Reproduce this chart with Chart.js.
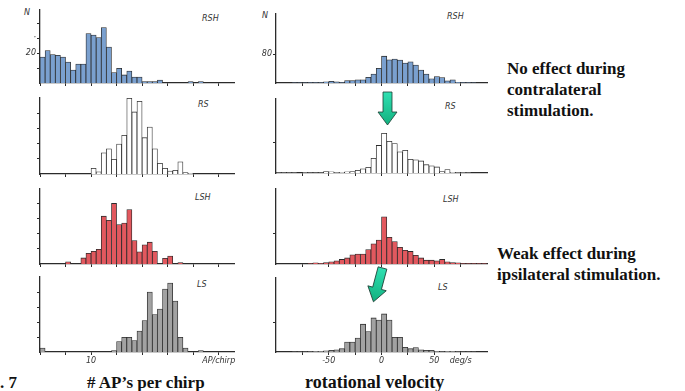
<!DOCTYPE html>
<html>
<head>
<meta charset="utf-8">
<script src="https://cdn.jsdelivr.net/npm/chart.js@4.4.0/dist/chart.umd.min.js"></script>
<style>
  body { margin: 0; background: #fff; }
  #fig { position: relative; width: 685px; height: 391px; overflow: hidden; background: #fff; }
  #fig canvas { position: absolute; }
  .lab { position: absolute; font-family: "DejaVu Sans", sans-serif; font-style: italic; font-size: 8px; line-height: 10px; color: #333; white-space: nowrap; }
  .note { position: absolute; font-family: "Liberation Serif", serif; font-weight: bold; font-size: 17px; line-height: 21px; color: #111; white-space: nowrap; }
  #arrows { position: absolute; left: 0; top: 0; }
</style>
</head>
<body>
<div id="fig">
  <div class="lab" style="left:24px;top:8px">N</div>
  <div class="lab" style="left:262px;top:11px">N</div>

  <div class="lab" style="left:202px;top:14px">RSH</div>
  <div class="lab" style="left:198px;top:100px">RS</div>
  <div class="lab" style="left:195px;top:193px">LSH</div>
  <div class="lab" style="left:197px;top:280px">LS</div>
  <div class="lab" style="left:447px;top:12px">RSH</div>
  <div class="lab" style="left:445px;top:102px">RS</div>
  <div class="lab" style="left:443px;top:195px">LSH</div>
  <div class="lab" style="left:438px;top:283px">LS</div>

  <div class="note" style="left:507px;top:58px">No effect during<br>contralateral<br>stimulation.</div>
  <div class="note" style="left:497px;top:243px">Weak effect during<br>ipsilateral stimulation.</div>
  <div class="note" style="left:0px;top:372px">. 7</div>
  <div class="note" style="left:87px;top:372px"># AP’s per chirp</div>
  <div class="note" style="left:305px;top:372px;font-size:18px">rotational velocity</div>

  <svg id="arrows" width="685" height="391">
    <defs>
      <linearGradient id="grn" x1="0" y1="0" x2="0" y2="1">
        <stop offset="0" stop-color="#2fe0b2"/>
        <stop offset="1" stop-color="#12b07e"/>
      </linearGradient>
    </defs>
    <g transform="translate(387.5,92)">
      <polygon points="-4.5,0 4.5,0 4.5,20 9.5,20 0,33 -9.5,20 -4.5,20" fill="url(#grn)" stroke="#1d3d33" stroke-width="0.8"/>
    </g>
    <g transform="translate(382.5,268) rotate(15)">
      <polygon points="-4.5,0 4.5,0 4.5,21 9.5,21 0,35 -9.5,21 -4.5,21" fill="url(#grn)" stroke="#1d3d33" stroke-width="0.8"/>
    </g>
  </svg>
</div>

<script>
// Left column: number of AP's per chirp, bins of 1 AP starting at 0
const leftRSH = [17.4, 21.7, 19, 18.5, 17.4, 14, 8.7, 12.6, 12.6, 33, 32, 30.4, 37, 24, 7, 9.8, 5.4, 8, 4, 4,
                 1, 1, 1, 2, 0, 0, 0, 0, 0, 1, 0, 1, 0, 0, 0, 0, 0, 0];
const leftRS  = [0, 0, 0, 0, 0, 0, 0, 0, 0, 0, 3.7, 1.5, 14, 16.6, 9.7, 19.8, 25.6, 50, 41, 48,
                 24, 31, 16.6, 7, 3.7, 2, 2.5, 8, 1, 0.5, 0, 0, 0, 0, 0, 0, 0, 0];
const leftLSH = [0, 0, 0, 0, 0, 1.5, 0, 0, 4, 7, 8.4, 9.7, 31.6, 28.8, 40, 26, 27, 36, 15.5, 8,
                 12.7, 14.4, 8.4, 0, 3.7, 5.2, 0, 1, 0, 0, 0, 0, 0, 0, 0, 0, 0, 0];
const leftLS  = [2.6, 0, 0, 0, 0, 0, 0, 0, 0, 0, 0, 0, 0, 0, 1, 7, 9.8, 9.8, 7.6, 14,
                 21, 40, 25, 28.7, 42, 46, 34, 9.8, 2.6, 0, 0, 1, 0, 0, 0, 0, 0, 0];

// Right column: rotational velocity, bins of 5 deg/s from -100 to +100
const rightRSH = [0, 0, 0, 0.5, 0.5, 0.5, 1, 1, 1, 3.5, 4.5, 3, 1, 7, 7, 9, 9, 16, 25, 41,
                  75, 65, 67, 64, 56, 59, 50, 36, 25, 12, 18, 15, 6, 9, 2, 1, 1, 0.5, 0, 0];
const rightRS  = [0.5, 0.5, 0.5, 0.5, 0, 1, 0.5, 0.5, 0.5, 4, 3, 1.5, 2, 3, 4, 7, 11, 15, 39, 73,
                  105, 84, 78, 56, 60, 36, 35, 32, 22, 19, 16, 4, 9, 2, 1, 1, 0.5, 0, 0, 0];
const rightLSH = [0, 0, 0, 0, 0, 0, 1, 3, 1.5, 3.5, 6, 8.5, 12, 16, 24, 26, 26, 38, 53, 63,
                  124, 70, 59, 44, 36, 33, 23, 16, 10, 10, 8.5, 12, 6, 4, 3, 1, 1, 1, 1, 1];
const rightLS  = [0, 0, 0, 0.5, 0.5, 0.5, 1, 2, 2, 3, 4.5, 6, 9, 27, 27, 38, 76, 56, 93, 87,
                  104, 87, 40, 40, 13, 9, 12, 6, 4.5, 4.5, 2, 1, 2, 2, 1, 0.5, 0.5, 0.5, 0, 0];

// tick positions and the few labels that are printed
const apTicks = [0, 5, 10, 15, 20, 25, 30, 35];
const velTicks = [-75, -50, -25, 0, 25, 50, 75];
const nTicksLeft = [10, 20, 30, 40];
const nTicksRight = [80];
const apLabels = { 10: '10', 35: 'AP/chirp' };
const velLabels = { '-50': '-50', 0: '0', 50: '50', 75: 'deg/s' };

const fig = document.getElementById('fig');
const ink = '#2b2b2b';

function makePanel(p) {
  const padTop = 4, xh = 22;
  const c = document.createElement('canvas');
  c.width = p.width;
  c.height = p.bottom - p.top + padTop + xh;
  c.style.left = p.left + 'px';
  c.style.top = (p.top - padTop) + 'px';
  fig.appendChild(c);

  const points = p.values.map((v, i) => ({ x: p.start + (i + 0.5) * p.step, y: v > 0 ? v : null }));

  new Chart(c, {
    type: 'bar',
    data: {
      datasets: [{
        data: points,
        backgroundColor: p.color,
        borderColor: ink,
        borderWidth: 0.8,
        barPercentage: 1,
        categoryPercentage: 1
      }]
    },
    options: {
      responsive: false,
      animation: false,
      devicePixelRatio: 1,
      layout: { padding: { top: padTop, right: p.padRight, left: 0, bottom: 0 } },
      plugins: { legend: { display: false }, tooltip: { enabled: false } },
      scales: {
        x: {
          type: 'linear',
          offset: false,
          min: p.min,
          max: p.max,
          afterBuildTicks: s => { s.ticks = p.xTicks.map(v => ({ value: v })); },
          afterFit: s => { s.height = xh; },
          grid: { offset: false, drawOnChartArea: false, drawTicks: true, tickLength: 3, color: ink },
          border: { display: true, color: ink, width: 1.3 },
          ticks: {
            autoSkip: false, maxRotation: 0, padding: 1,
            color: '#333', font: { family: 'DejaVu Sans', size: 8, style: 'italic' },
            callback: v => (p.xLabels && p.xLabels[v]) || ''
          }
        },
        y: {
          min: 0,
          max: (p.bottom - p.top) / p.pxPerUnit,
          afterBuildTicks: s => { s.ticks = p.yTicks.map(v => ({ value: v })); },
          afterFit: s => { s.width = p.yw; },
          grid: { drawOnChartArea: false, drawTicks: true, tickLength: 3, color: ink },
          border: { display: true, color: ink, width: 1.3 },
          ticks: {
            padding: 1,
            color: '#333', font: { family: 'DejaVu Sans', size: 8, style: 'italic' },
            callback: v => (p.yLabels && p.yLabels[v]) || ''
          }
        }
      }
    }
  });
}

const leftBase = { left: 0, width: 250, yw: 40, padRight: 16, min: 0, max: 38, start: 0, step: 1, xTicks: apTicks, yTicks: nTicksLeft };
const rightBase = { left: 240, width: 260, yw: 36, padRight: 13, min: -100, max: 100, start: -100, step: 5, xTicks: velTicks, yTicks: nTicksRight };

makePanel({ ...leftBase, top: 8, bottom: 83, pxPerUnit: 1.533, values: leftRSH, color: '#7aa0cf', yLabels: { 20: '20', 30: '·' } });
makePanel({ ...leftBase, top: 96, bottom: 174, pxPerUnit: 1.55, values: leftRS, color: '#ffffff' });
makePanel({ ...leftBase, top: 187, bottom: 264, pxPerUnit: 1.55, values: leftLSH, color: '#e2585e' });
makePanel({ ...leftBase, top: 275, bottom: 352, pxPerUnit: 1.533, values: leftLS, color: '#a2a2a2', xLabels: apLabels });

makePanel({ ...rightBase, top: 12, bottom: 83, pxPerUnit: 0.367, values: rightRSH, color: '#7aa0cf', yLabels: { 80: '80' } });
makePanel({ ...rightBase, top: 97, bottom: 173, pxPerUnit: 0.387, values: rightRS, color: '#ffffff' });
makePanel({ ...rightBase, top: 187, bottom: 264, pxPerUnit: 0.39, values: rightLSH, color: '#e2585e' });
makePanel({ ...rightBase, top: 276, bottom: 352, pxPerUnit: 0.375, values: rightLS, color: '#a2a2a2', xLabels: velLabels });
</script>
</body>
</html>
